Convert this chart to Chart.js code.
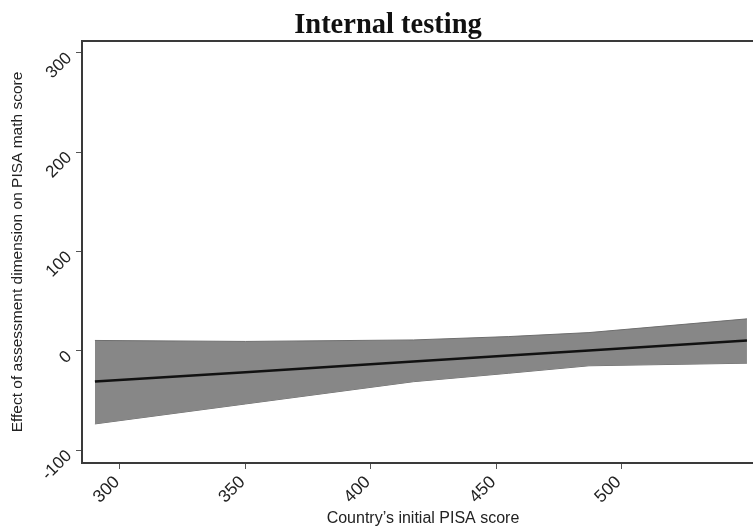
<!DOCTYPE html>
<html><head><meta charset="utf-8">
<script src="https://cdn.jsdelivr.net/npm/chart.js@4.4.1/dist/chart.umd.min.js"></script>
<style>
html,body{margin:0;padding:0;overflow:hidden;background:#fff;width:753px;height:530px}
#wrap{width:776px;height:530px}
</style></head>
<body><div id="wrap"><canvas id="c" width="776" height="530"></canvas></div>
<script>
const xValues = [290, 350, 417, 455, 487, 550];
const upperCI = [10.5, 9.5, 11, 14.4, 18.4, 32.2];
const lowerCI = [-73.5, -53.4, -31, -22.5, -15, -12.4];
const fitLine = [-30.9, -21.4, -10.7, -4.6, 0.4, 10.4];
const xTicks = [300, 350, 400, 450, 500];
const yTicks = [-100, 0, 100, 200, 300];
const titleText = 'Internal testing';
const xTitle = "Country\u2019s initial PISA score";
const yTitle = 'Effect of assessment dimension on PISA math score';

const pts = arr => xValues.map((x, i) => ({x: x, y: arr[i]}));
const sans = '"Liberation Sans", Arial, sans-serif';

new Chart(document.getElementById('c'), {
  type: 'line',
  data: {
    datasets: [
      {data: pts(fitLine), borderColor: '#111', borderWidth: 2.5, pointRadius: 0, fill: false, tension: 0},
      {data: pts(upperCI), borderColor: '#6e6e6e', borderWidth: 1, pointRadius: 0, fill: '+1', backgroundColor: '#878787', tension: 0},
      {data: pts(lowerCI), borderColor: '#6e6e6e', borderWidth: 1, pointRadius: 0, fill: false, tension: 0}
    ]
  },
  options: {
    responsive: false,
    animation: false,
    devicePixelRatio: 1,
    layout: {padding: 0},
    plugins: {
      legend: {display: false},
      tooltip: {enabled: false},
      title: {display: true, text: titleText, color: '#111',
        font: {family: '"Liberation Serif", "Times New Roman", serif', size: 28.5, weight: 'bold', lineHeight: 1.1},
        padding: {top: 10, bottom: -0.4}}
    },
    scales: {
      x: {
        type: 'linear', position: 'bottom', min: 284.85, max: 556.8,
        afterBuildTicks: s => { s.ticks = xTicks.map(v => ({value: v})); },
        afterFit: s => { s.height = 67; },
        ticks: {autoSkip: false, minRotation: 45, maxRotation: 45, color: '#222', font: {family: sans, size: 17.5}, padding: 3, labelOffset: -3},
        grid: {drawOnChartArea: false, drawTicks: true, tickLength: 6, color: '#555', tickWidth: 1},
        border: {display: true, color: '#3a3a3a', width: 2},
        title: {display: true, text: xTitle, color: '#222',
          font: {family: sans, size: 16}, padding: {top: 0, bottom: 2}}
      },
      xTop: {
        type: 'linear', position: 'top', min: 284.85, max: 556.8,
        ticks: {display: false},
        grid: {display: false, drawOnChartArea: false},
        border: {display: true, color: '#3a3a3a', width: 2},
        afterFit: s => { s.height = 0; }
      },
      y: {
        type: 'linear', position: 'left', min: -112.8, max: 311.8,
        afterBuildTicks: s => { s.ticks = yTicks.map(v => ({value: v})); },
        afterFit: s => { s.width = 82; },
        ticks: {minRotation: 45, maxRotation: 45, color: '#222', font: {family: sans, size: 17}, padding: 7, labelOffset: 3},
        grid: {drawOnChartArea: false, drawTicks: true, tickLength: 6, color: '#555', tickWidth: 1},
        border: {display: true, color: '#3a3a3a', width: 2},
        title: {display: true, text: yTitle, color: '#222',
          font: {family: sans, size: 15.5}, padding: {top: 8.5, bottom: 0}}
      },
      yRight: {
        type: 'linear', position: 'right', min: -112.8, max: 311.8,
        ticks: {display: false},
        grid: {display: false, drawOnChartArea: false},
        border: {display: false},
        afterFit: s => { s.width = 12; }
      }
    }
  }
});
</script></body></html>
